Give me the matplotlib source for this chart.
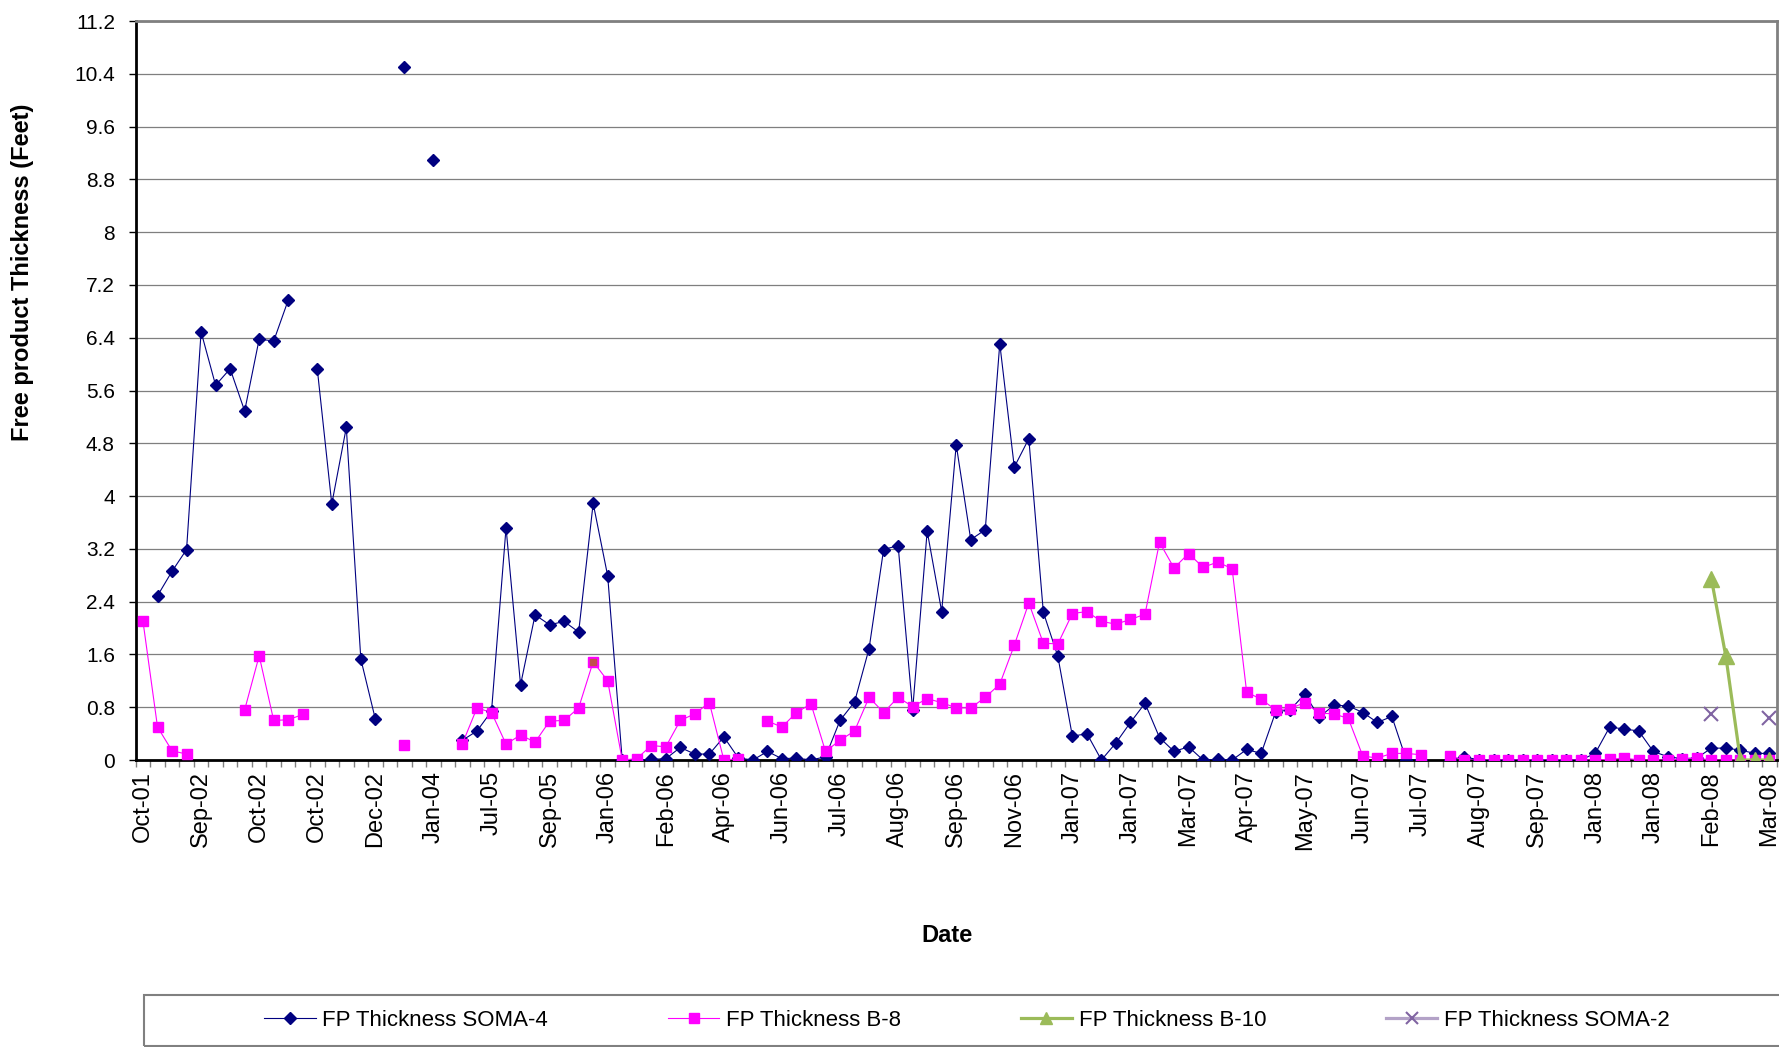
import numpy as np
import matplotlib
matplotlib.use("Agg")
import matplotlib.pyplot as plt
from matplotlib.lines import Line2D
from matplotlib.patches import Rectangle

plt.rcParams['font.family'] = ['Liberation Sans', 'DejaVu Sans']

nan = np.nan

# x labels, one for every 4th sample (113 samples in total)
tick_labels = ["Oct-01", "Sep-02", "Oct-02", "Oct-02", "Dec-02", "Jan-04", "Jul-05",
               "Sep-05", "Jan-06", "Feb-06", "Apr-06", "Jun-06", "Jul-06", "Aug-06",
               "Sep-06", "Nov-06", "Jan-07", "Jan-07", "Mar-07", "Apr-07", "May-07",
               "Jun-07", "Jul-07", "Aug-07", "Sep-07", "Jan-08", "Jan-08", "Feb-08",
               "Mar-08"]

soma4 = [nan, 2.49, 2.86, 3.19, 6.49, 5.68, 5.93, 5.29, 6.38, 6.35,
         6.97, nan, 5.93, 3.88, 5.04, 1.53, 0.62, nan, 10.50, nan,
         9.10, nan, 0.30, 0.44, 0.74, 3.52, 1.14, 2.20, 2.05, 2.10,
         1.94, 3.89, 2.79, 0.00, 0.00, 0.01, 0.02, 0.19, 0.09, 0.09,
         0.35, 0.03, 0.00, 0.13, 0.02, 0.03, 0.00, 0.05, 0.60, 0.88,
         1.69, 3.19, 3.25, 0.76, 3.47, 2.25, 4.78, 3.34, 3.49, 6.31,
         4.44, 4.87, 2.24, 1.57, 0.36, 0.40, 0.00, 0.26, 0.57, 0.86,
         0.34, 0.13, 0.20, 0.00, 0.01, 0.00, 0.16, 0.10, 0.73, 0.76,
         1.00, 0.65, 0.83, 0.82, 0.72, 0.57, 0.66, 0.00, 0.00, nan,
         0.00, 0.05, 0.00, 0.00, 0.00, 0.00, 0.00, 0.00, 0.00, 0.00,
         0.10, 0.50, 0.47, 0.44, 0.13, 0.05, 0.02, 0.03, 0.18, 0.18,
         0.15, 0.10, 0.10]

b8 = [2.10, 0.50, 0.14, 0.09, nan, nan, nan, 0.76, 1.58, 0.60,
      0.61, 0.69, nan, nan, nan, nan, nan, nan, 0.23, nan,
      nan, nan, 0.25, 0.79, 0.72, 0.24, 0.38, 0.27, 0.59, 0.60,
      0.79, 1.49, 1.20, 0.00, 0.02, 0.22, 0.20, 0.60, 0.70, 0.87,
      0.00, 0.02, nan, 0.59, 0.50, 0.72, 0.85, 0.13, 0.30, 0.44,
      0.95, 0.72, 0.95, 0.81, 0.93, 0.87, 0.79, 0.79, 0.95, 1.15,
      1.74, 2.38, 1.77, 1.76, 2.22, 2.25, 2.10, 2.06, 2.13, 2.21,
      3.30, 2.91, 3.13, 2.92, 3.00, 2.90, 1.03, 0.92, 0.76, 0.78,
      0.87, 0.71, 0.70, 0.63, 0.06, 0.03, 0.10, 0.10, 0.08, nan,
      0.06, 0.00, 0.00, 0.00, 0.00, 0.00, 0.00, 0.00, 0.00, 0.00,
      0.00, 0.01, 0.03, 0.00, 0.00, 0.00, 0.02, 0.03, 0.00, 0.00,
      0.00, 0.00, 0.00]
b8_odd_point = 31  # this one marker is formatted differently in the original

b10 = [nan] * 108 + [2.75, 1.57, 0.00, 0.00, 0.00]
soma2 = [nan] * 108 + [0.70, nan, nan, nan, 0.63]

yticks = [0, 0.8, 1.6, 2.4, 3.2, 4, 4.8, 5.6, 6.4, 7.2, 8, 8.8, 9.6, 10.4, 11.2]
ytick_labels = ["0", "0.8", "1.6", "2.4", "3.2", "4", "4.8", "5.6", "6.4", "7.2",
                "8", "8.8", "9.6", "10.4", "11.2"]

x = np.arange(len(soma4))

fig = plt.figure(figsize=(17.79, 10.47), dpi=100)
ax = fig.add_axes([0.0763, 0.2741, 0.9224, 0.7058])

# gridlines
for yv in yticks[1:]:
    ax.axhline(yv, color="#7f7f7f", lw=0.9, zorder=0)

ax.plot(x, soma4, color="#000080", lw=0.8, marker="D", ms=6.5,
        mfc="#000080", mec="#000080", zorder=3)
ax.plot(x, b8, color="#FF00FF", lw=0.8, marker="s", ms=7.5,
        mfc="#FF00FF", mec="#FF00FF", zorder=4)
ax.plot(x[b8_odd_point], b8[b8_odd_point], ls="none", marker="s", ms=5,
        mfc="#C0504D", mec="#C0504D", zorder=5)
ax.plot(x, b10, color="#9BBB59", lw=2.3, marker="^", ms=11,
        mfc="#9BBB59", mec="#9BBB59", zorder=6)
ax.plot(x, soma2, color="#B3A2C7", lw=2.3, ls="none", marker="x", ms=10,
        mew=1.5, mec="#8064A2", zorder=6)

ax.set_xlim(-0.5, len(x) - 0.5)
ax.set_ylim(0, 11.2)

ax.set_yticks(yticks)
ax.set_yticklabels(ytick_labels)
ax.tick_params(axis="y", direction="out", length=5, width=1, pad=10,
               labelsize=15, color="#000000")

ax.set_xticks(x[::4])
ax.set_xticklabels(tick_labels, rotation=90, va="top", ha="center")
ax.set_xticks(np.arange(-0.5, len(x)), minor=True)
ax.tick_params(axis="x", which="major", length=0, pad=8, labelsize=17)
ax.tick_params(axis="x", which="minor", direction="out", length=5, width=1,
               color="#808080")

for side in ["top", "right"]:
    ax.spines[side].set_color("#808080")
    ax.spines[side].set_linewidth(2)
ax.spines["left"].set_linewidth(2)
ax.spines["bottom"].set_linewidth(2)

fig.text(23 / 1779, 1 - 272 / 1047, "Free product Thickness (Feet)",
         rotation=90, ha="center", va="center", fontsize=17, fontweight="bold")
fig.text(947 / 1779, 1 - 936 / 1047, "Date", ha="center", va="center",
         fontsize=17, fontweight="bold")

# legend box runs off the right edge of the image in the original
fig.patches.append(Rectangle((144 / 1779, 1 / 1047), 1.0, 51 / 1047,
                             transform=fig.transFigure, fill=False,
                             edgecolor="#808080", lw=1.5))

handles = [
    Line2D([], [], color="#000080", lw=0.8, marker="D", ms=6, mfc="#000080", mec="#000080"),
    Line2D([], [], color="#FF00FF", lw=0.8, marker="s", ms=7, mfc="#FF00FF", mec="#FF00FF"),
    Line2D([], [], color="#9BBB59", lw=2.3, marker="^", ms=9, mfc="#9BBB59", mec="#9BBB59"),
    Line2D([], [], color="#B3A2C7", lw=2.3, marker="x", ms=8, mew=1.5, mec="#8064A2"),
]
names = ["FP Thickness SOMA-4", "FP Thickness B-8", "FP Thickness B-10",
         "FP Thickness SOMA-2"]
leg = fig.legend(handles, names, loc="center", ncol=4,
                 bbox_to_anchor=(967 / 1779, 1 - 1020 / 1047),
                 fontsize=16, frameon=False,
                 handlelength=2.3, handletextpad=0.3, columnspacing=5.4,
                 borderpad=0.5)

fig.savefig("out.png", dpi=100)
